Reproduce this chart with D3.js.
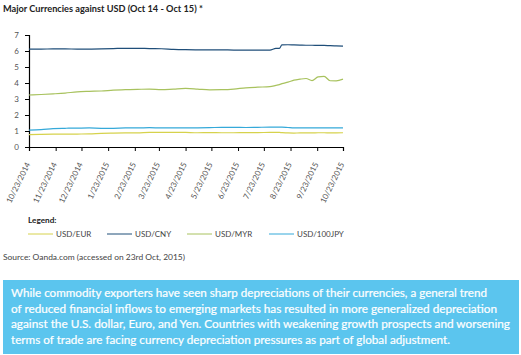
<!DOCTYPE html>
<html><head><meta charset="utf-8">
<script src="https://cdn.jsdelivr.net/npm/d3@7"></script>
<style>
body{margin:0;background:#fff;}
svg{display:block;font-family:Lato,"Open Sans",sans-serif;}
</style></head>
<body><svg id="c" width="521" height="355"></svg>
<script>
const dates = ["2014-10-23","2014-11-06","2014-11-20","2014-12-04","2014-12-18","2015-01-01","2015-01-15","2015-01-29","2015-02-12","2015-02-26","2015-03-12","2015-03-26","2015-04-09","2015-04-23","2015-05-07","2015-05-21","2015-06-04","2015-06-18","2015-07-02","2015-07-16","2015-07-30","2015-08-06","2015-08-10","2015-08-13","2015-08-20","2015-08-27","2015-09-03","2015-09-10","2015-09-17","2015-09-24","2015-10-01","2015-10-08","2015-10-15","2015-10-23"];
const usdEur = [0.77,0.79,0.80,0.80,0.81,0.82,0.85,0.87,0.88,0.88,0.92,0.92,0.92,0.91,0.89,0.90,0.89,0.89,0.90,0.90,0.91,0.91,0.91,0.90,0.88,0.87,0.88,0.88,0.88,0.89,0.89,0.88,0.88,0.89];
const usdCny = [6.12,6.12,6.13,6.13,6.12,6.12,6.13,6.15,6.17,6.17,6.15,6.14,6.10,6.08,6.07,6.07,6.07,6.06,6.06,6.06,6.06,6.16,6.16,6.38,6.39,6.38,6.37,6.36,6.36,6.35,6.35,6.33,6.32,6.31];
const usdMyr = [3.25,3.28,3.32,3.37,3.45,3.48,3.50,3.55,3.58,3.60,3.62,3.58,3.62,3.66,3.62,3.57,3.58,3.62,3.70,3.74,3.77,3.85,3.90,3.96,4.05,4.18,4.24,4.28,4.15,4.38,4.42,4.14,4.13,4.24];
const usd100Jpy = [1.06,1.08,1.15,1.17,1.18,1.19,1.17,1.17,1.19,1.19,1.21,1.19,1.20,1.19,1.20,1.21,1.23,1.23,1.22,1.23,1.24,1.24,1.24,1.24,1.22,1.20,1.19,1.20,1.20,1.19,1.20,1.20,1.19,1.20];
const tickDates = ["2014-10-23","2014-11-23","2014-12-23","2015-01-23","2015-02-23","2015-03-23","2015-04-23","2015-05-23","2015-06-23","2015-07-23","2015-08-23","2015-09-23","2015-10-23"];
const yTicks = [0,1,2,3,4,5,6,7];
const seriesNames = ["USD/EUR","USD/CNY","USD/MYR","USD/100JPY"];
const seriesColors = ["#d6d24c","#1f4e79","#a8c25e","#35a9d9"];
const seriesValues = [usdEur, usdCny, usdMyr, usd100Jpy];
const title = "Major Currencies against USD (Oct 14 - Oct 15) *";
const source = "Source: Oanda.com (accessed on 23rd Oct, 2015)";
const note = ["While commodity exporters have seen sharp depreciations of their currencies, a general trend",
"of reduced financial inflows to emerging markets has resulted in more generalized depreciation",
"against the U.S. dollar, Euro, and Yen. Countries with weakening growth prospects and worsening",
"terms of trade are facing currency depreciation pressures as part of global adjustment."];
const noteWidths = [476,486,499,439];

const parse = d3.timeParse("%Y-%m-%d");
const fmt = d => (d.getMonth()+1) + "/" + d.getDate() + "/" + d.getFullYear();
const svg = d3.select("#c");

svg.append("text").attr("x",3).attr("y",12).attr("font-size",9.2).attr("font-weight","bold")
  .attr("fill","#222").text(title);

const x = d3.scaleTime().domain([parse(dates[0]), parse(dates[dates.length-1])]).range([29,343]);
const y = d3.scaleLinear().domain([0,7]).range([147,35]);

const gy = svg.append("g").attr("transform","translate(29,0)")
  .call(d3.axisLeft(y).tickValues(yTicks).tickSize(4).tickPadding(6).tickFormat(d3.format("d")));
const gx = svg.append("g").attr("transform","translate(0,147)")
  .call(d3.axisBottom(x).tickValues(tickDates.map(parse)).tickSize(4).tickFormat(fmt));
[gx,gy].forEach(g=>{
  g.select(".domain").attr("stroke","#000").attr("stroke-width",1.2);
  g.selectAll(".tick line").attr("stroke","#000");
  g.selectAll("text").attr("font-size",8).attr("fill","#555").attr("font-family","Lato,'Open Sans',sans-serif");
});
gx.selectAll("text").attr("text-anchor","end").attr("dy",0).attr("y",0)
  .attr("transform","translate(1,17) rotate(-64)");

const line = d3.line().x((d,i)=>x(parse(dates[i]))).y(d=>y(d)).curve(d3.curveMonotoneX);
seriesValues.forEach((vals,k)=>{
  svg.append("path").datum(vals).attr("fill","none").attr("stroke",seriesColors[k])
    .attr("stroke-width",1.2).attr("d",line);
});

svg.append("text").attr("x",28).attr("y",223).attr("font-size",8.2).attr("font-weight","bold")
  .attr("fill","#222").text("Legend:");
const legX = [28,107,187,269];
seriesNames.forEach((n,k)=>{
  svg.append("line").attr("x1",legX[k]).attr("x2",legX[k]+25).attr("y1",234).attr("y2",234)
    .attr("stroke",seriesColors[k]).attr("stroke-width",1);
  svg.append("text").attr("x",legX[k]+28).attr("y",237).attr("font-size",8).attr("fill","#444").text(n);
});

svg.append("text").attr("x",3).attr("y",260).attr("font-size",8.4).attr("fill","#444")
  .attr("textLength",182).attr("lengthAdjust","spacingAndGlyphs").text(source);

svg.append("rect").attr("x",3).attr("y",280).attr("width",516).attr("height",74).attr("fill","#5bc5ee");
note.forEach((t,i)=>{
  svg.append("text").attr("x",11).attr("y",297+i*15.5).attr("font-size",11)
    .attr("font-family","Lato,'Open Sans',sans-serif").attr("fill","#fff")
    .attr("stroke","#fff").attr("stroke-width",0.2)
    .attr("textLength",noteWidths[i]).attr("lengthAdjust","spacingAndGlyphs").text(t);
});
</script></body></html>
